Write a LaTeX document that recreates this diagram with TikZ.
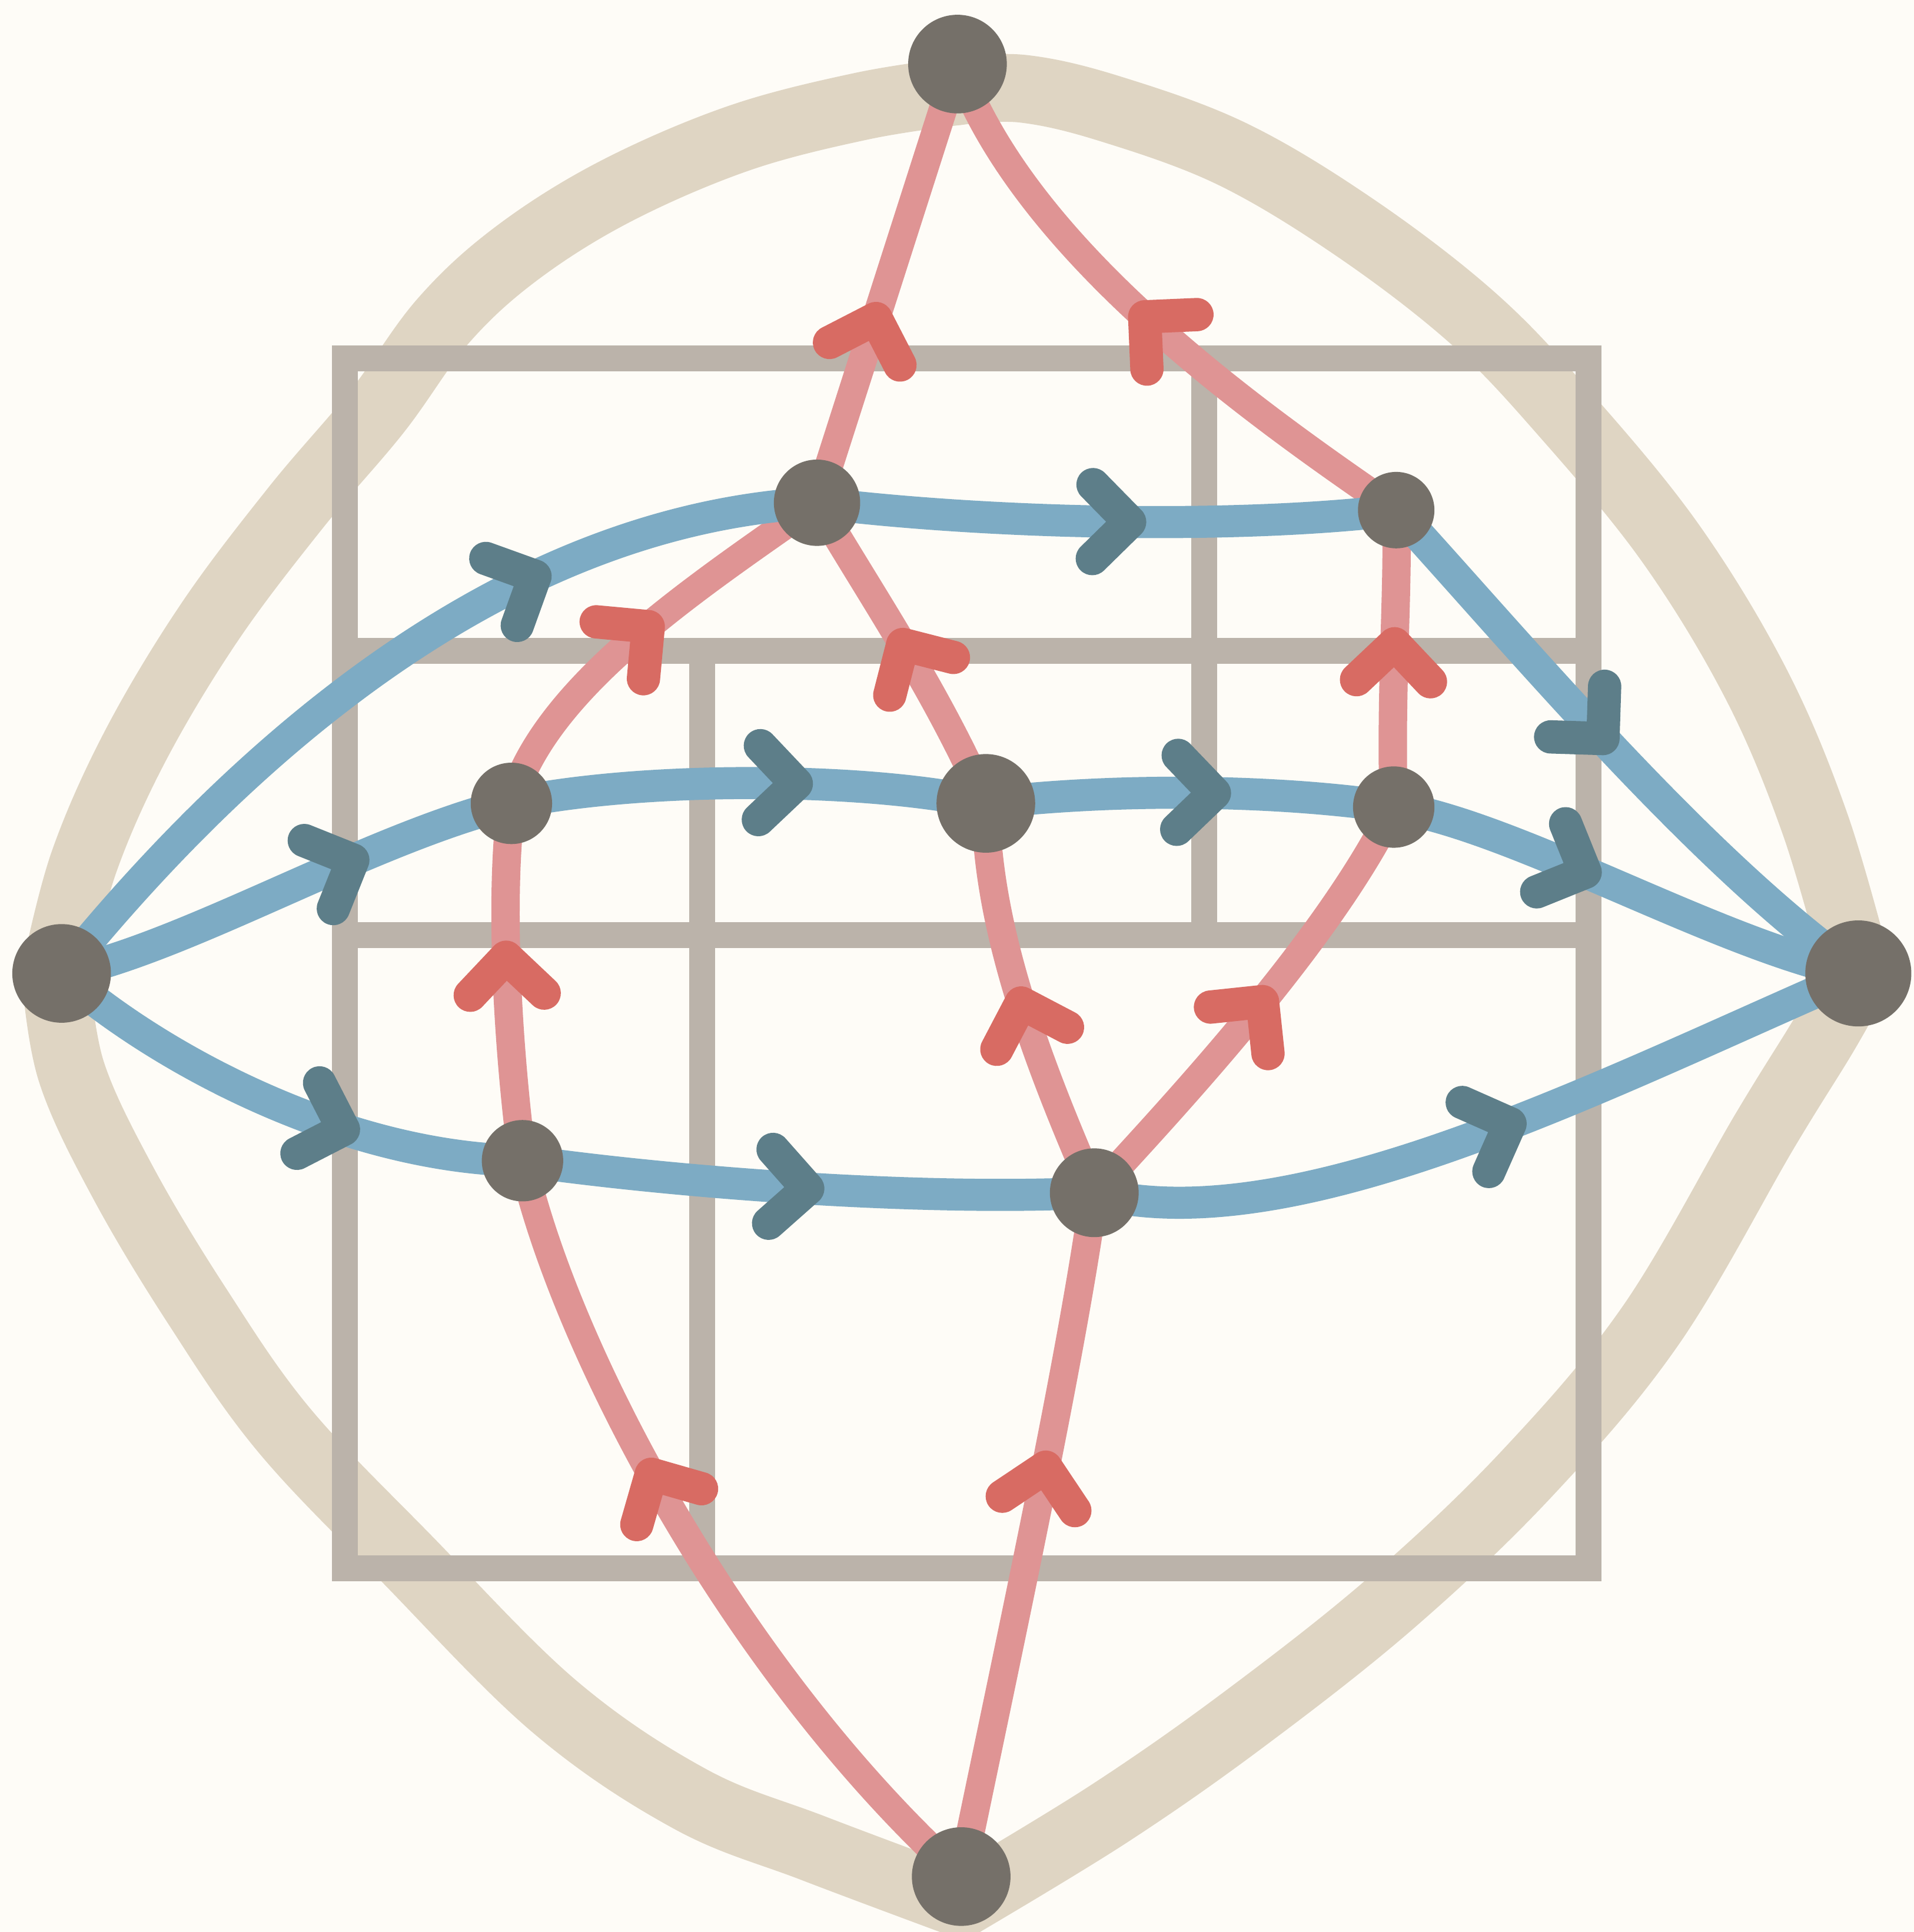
\documentclass[tikz,border=0pt]{standalone}
\usetikzlibrary{decorations.markings}
\definecolor{bgc}{HTML}{FEFCF7}
\definecolor{beigec}{HTML}{DFD5C3}
\definecolor{gridc}{HTML}{BBB3AA}
\definecolor{pinkc}{HTML}{DF9494}
\definecolor{redc}{HTML}{D86B63}
\definecolor{bluec}{HTML}{7DABC4}
\definecolor{tealc}{HTML}{5D7E89}
\definecolor{nodec}{HTML}{757069}
\pgfdeclarelayer{back}
\pgfdeclarelayer{edges}
\pgfsetlayers{back,edges,main}
\begin{document}
\begin{tikzpicture}[x=0.01cm,y=-0.01cm,
  vertex/.style={circle,fill=nodec,inner sep=0pt,minimum size=#1},
  pinkedge/.style={draw=pinkc,line width=0.23cm,line cap=round},
  blueedge/.style={draw=bluec,line width=0.26cm,line cap=round},
  gridline/.style={draw=gridc,line width=0.21cm},
  beigeband/.style={draw=beigec,line width=0.55cm,line cap=round,line join=round},
  chev/.style={line width=0.27cm,line cap=round,line join=round},
  parr/.style={postaction={decorate,decoration={markings,mark=at position #1 with {\draw[chev,redc] (-0.3cm,0.3cm) -- (0,0) -- (-0.3cm,-0.3cm);}}}},
  barr/.style={postaction={decorate,decoration={markings,mark=at position #1 with {\draw[chev,tealc] (-0.3cm,0.3cm) -- (0,0) -- (-0.3cm,-0.3cm);}}}}]
\useasboundingbox (0,0) rectangle (1553,1568);
% nodes
\node[vertex=0.80cm] (T) at (777,52) {};
\node[vertex=0.80cm] (L) at (50,790) {};
\node[vertex=0.86cm] (R) at (1508,790) {};
\node[vertex=0.80cm] (Bt) at (780,1523) {};
\node[vertex=0.70cm] (A) at (663,408) {};
\node[vertex=0.62cm] (B) at (1133,414) {};
\node[vertex=0.66cm] (C) at (415,652) {};
\node[vertex=0.80cm] (D) at (800,652) {};
\node[vertex=0.66cm] (E) at (1131,655) {};
\node[vertex=0.66cm] (F) at (424,942) {};
\node[vertex=0.72cm] (G) at (888,968) {};
\begin{pgfonlayer}{back}
\fill[bgc] (0,0) rectangle (1553,1568);
\draw[beigeband] plot[smooth,tension=0.6] coordinates {(777,74) (700,86) (600,112) (500,155) (420,205) (360,260) (306,334) (240,412) (170,505) (110,605) (68,700) (45,790)};
\draw[beigeband] plot[smooth,tension=0.6] coordinates {(45,790) (58,870) (100,960) (160,1060) (230,1160) (330,1265) (450,1385) (560,1460) (660,1500) (780,1545)};
\draw[beigeband] plot[smooth,tension=0.6] coordinates {(780,1545) (900,1472) (1010,1395) (1130,1300) (1240,1195) (1340,1075) (1432,918) (1480,840) (1508,790)};
\draw[beigeband] plot[smooth,tension=0.6] coordinates {(1508,790) (1473,669) (1425,555) (1355,440) (1268,334) (1195,258) (1100,185) (1000,125) (900,88) (830,72) (777,74)};
\draw[gridline] (280,291) rectangle (1289,1273);
\draw[gridline] (280,528) -- (1289,528);
\draw[gridline] (280,759) -- (1289,759);
\draw[gridline] (570,528) -- (570,1273);
\draw[gridline] (977,291) -- (977,759);
\end{pgfonlayer}
\begin{pgfonlayer}{edges}
% pink edges
\draw[pinkedge,parr=0.42] (A.center) -- (T.center);
\draw[pinkedge,parr=0.5] (B.center) .. controls (1010,330) and (830,200) .. (T.center);
\draw[pinkedge,parr=0.52] (C.center) .. controls (440,560) and (560,480) .. (A.center);
\draw[pinkedge,parr=0.52] (D.center) .. controls (760,560) and (705,480) .. (A.center);
\draw[pinkedge,parr=0.55] (E.center) .. controls (1128,560) and (1135,480) .. (B.center);
\draw[pinkedge,parr=0.57] (F.center) .. controls (412,850) and (405,730) .. (C.center);
\draw[pinkedge,parr=0.5] (G.center) .. controls (850,880) and (800,760) .. (D.center);
\draw[pinkedge,parr=0.52] (G.center) .. controls (960,890) and (1080,760) .. (E.center);
\draw[pinkedge,parr=0.6] (Bt.center) .. controls (600,1360) and (460,1100) .. (F.center);
\draw[pinkedge,parr=0.6] (Bt.center) .. controls (820,1330) and (870,1100) .. (G.center);
% blue edges
\draw[blueedge,barr=0.68] (L.center) .. controls (220,580) and (430,420) .. (A.center);
\draw[blueedge,barr=0.54] (A.center) .. controls (800,425) and (1000,430) .. (B.center);
\draw[blueedge,barr=0.47] (B.center) .. controls (1230,520) and (1380,700) .. (R.center);
\draw[blueedge,barr=0.65] (L.center) .. controls (150,770) and (300,680) .. (C.center);
\draw[blueedge,barr=0.6] (C.center) .. controls (520,630) and (700,630) .. (D.center);
\draw[blueedge,barr=0.56] (D.center) .. controls (900,640) and (1030,640) .. (E.center);
\draw[blueedge,barr=0.41] (E.center) .. controls (1230,670) and (1400,770) .. (R.center);
\draw[blueedge,barr=0.64] (L.center) .. controls (130,860) and (280,940) .. (F.center);
\draw[blueedge,barr=0.5] (F.center) .. controls (550,960) and (750,975) .. (G.center);
\draw[blueedge,barr=0.53] (G.center) .. controls (1050,1010) and (1300,880) .. (R.center);
\end{pgfonlayer}
\end{tikzpicture}
\end{document}
